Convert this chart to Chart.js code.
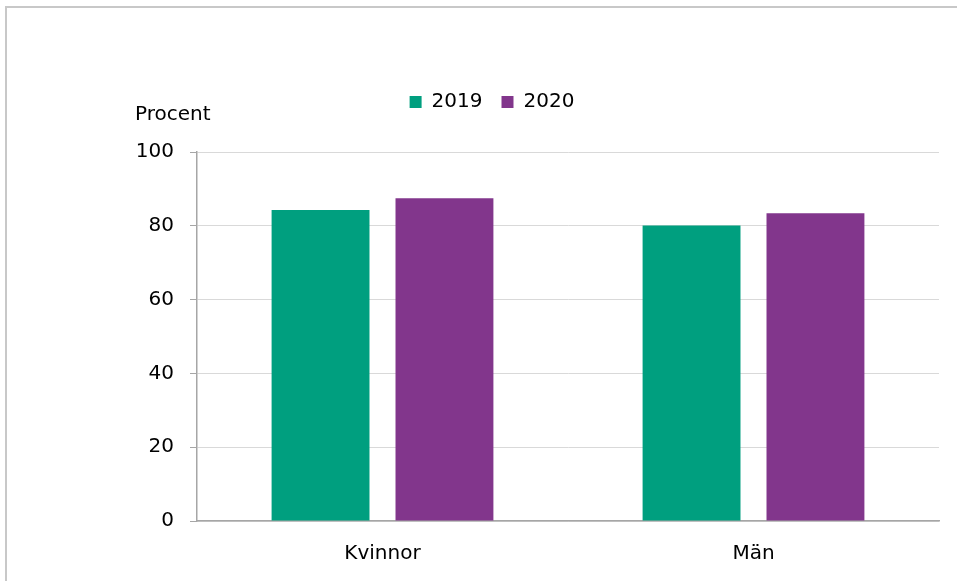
<!DOCTYPE html>
<html lang="sv">
<head>
    <meta charset="UTF-8" />
    <title>Procent 2019 och 2020</title>
    <script src="https://cdn.jsdelivr.net/npm/chart.js"></script>
    <style>
        body {
            margin: 0;
            background: #fff;
        }

        .wrap {
            position: relative;
            width: 957px;
            height: 581px;
        }

        .frame {
            position: absolute;
            left: 5px;
            top: 6px;
            right: 0;
            bottom: 0;
            border-top: 2px solid #c8c8c8;
            border-left: 2px solid #c8c8c8;
        }

        #chart {
            position: absolute;
            left: 0;
            top: 0;
        }
    </style>
</head>

<body>
    <div class="wrap">
        <div class="frame"></div>
        <canvas id="chart" width="957" height="581"></canvas>
    </div>

    <script>
        const categories = ['Kvinnor', 'Män'];
        const years = ['2019', '2020'];
        const values2019 = [84.3, 80.1];
        const values2020 = [87.5, 83.4];
        const yTicks = [0, 20, 40, 60, 80, 100];

        const fontFamily = "'DejaVu Sans', Verdana, sans-serif";
        const fontSize = 20;

        // extra room under the legend, so the plot starts lower
        const legendGap = {
            id: 'legendGap',
            beforeUpdate(chart) {
                const legend = chart.legend;
                if (!legend || legend._gapPatched) return;
                const fit = legend.fit;
                legend.fit = function () {
                    fit.call(this);
                    this.height += 30;
                };
                legend._gapPatched = true;
            }
        };

        // "Procent" above the y axis
        const unitLabel = {
            id: 'unitLabel',
            afterDraw(chart) {
                const { ctx, chartArea } = chart;
                ctx.save();
                ctx.font = fontSize + 'px ' + fontFamily;
                ctx.fillStyle = '#000';
                ctx.textAlign = 'left';
                ctx.textBaseline = 'middle';
                ctx.fillText('Procent', chartArea.left - 62, chartArea.top - 37);
                ctx.restore();
            }
        };

        new Chart(document.getElementById('chart'), {
            type: 'bar',
            data: {
                labels: categories,
                datasets: [
                    {
                        label: years[0],
                        data: values2019,
                        backgroundColor: '#009F7F'
                    },
                    {
                        label: years[1],
                        data: values2020,
                        backgroundColor: '#82368C'
                    }
                ]
            },
            options: {
                responsive: false,
                animation: false,
                categoryPercentage: 0.668,
                barPercentage: 0.79,
                layout: {
                    padding: { top: 73, left: 45, right: 18, bottom: 0 }
                },
                plugins: {
                    legend: {
                        position: 'top',
                        labels: {
                            color: '#000',
                            font: { family: fontFamily, size: fontSize },
                            boxWidth: 12,
                            boxHeight: 12,
                            padding: 19
                        }
                    },
                    tooltip: { enabled: false }
                },
                scales: {
                    x: {
                        grid: { display: false },
                        border: { display: true, color: '#a6a6a6', width: 1.5 },
                        ticks: {
                            color: '#000',
                            padding: 13,
                            font: { family: fontFamily, size: fontSize }
                        },
                        afterFit(scale) {
                            scale.height = 60;
                        }
                    },
                    y: {
                        min: 0,
                        max: 100,
                        afterBuildTicks(scale) {
                            scale.ticks = yTicks.map(v => ({ value: v }));
                        },
                        grid: {
                            color: '#d9d9d9',
                            tickColor: '#a6a6a6',
                            tickLength: 7
                        },
                        border: { display: true, color: '#a6a6a6', width: 1.5 },
                        ticks: {
                            color: '#000',
                            padding: 16,
                            font: { family: fontFamily, size: fontSize }
                        },
                        afterFit(scale) {
                            scale.width = 152;
                        }
                    }
                }
            },
            plugins: [legendGap, unitLabel]
        });
    </script>
</body>

</html>
